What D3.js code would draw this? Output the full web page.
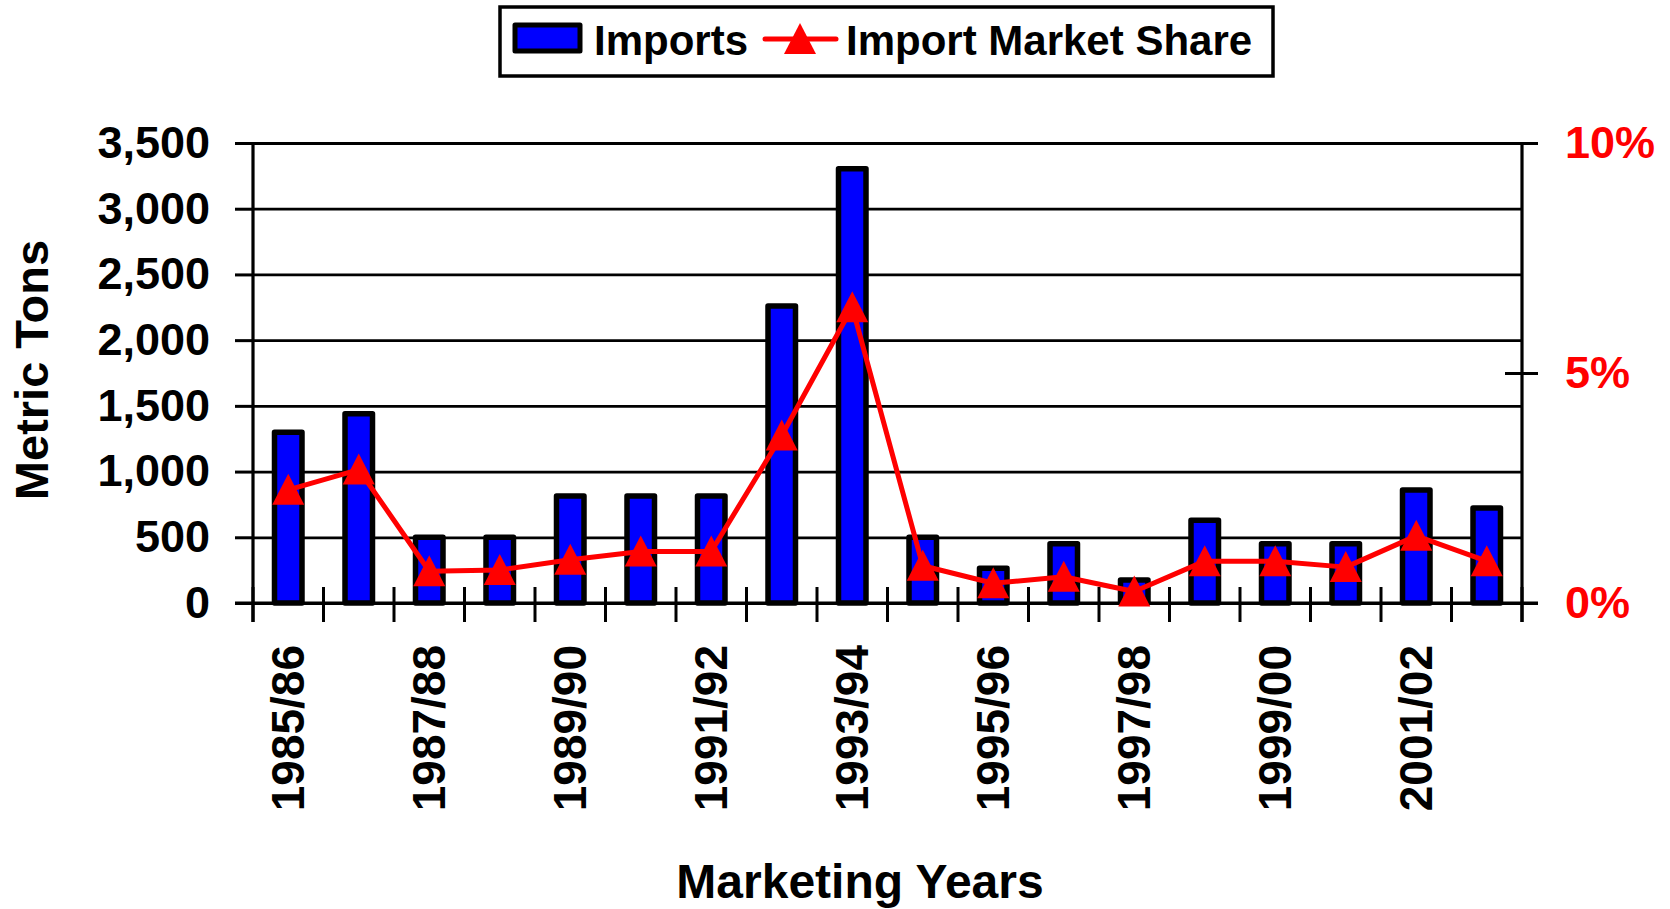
<!DOCTYPE html>
<html>
<head>
<meta charset="utf-8">
<script src="https://cdn.jsdelivr.net/npm/d3@7"></script>
<style>
  body { margin: 0; background: #fff; }
  text { font-family: "Liberation Sans", Arial, sans-serif; font-weight: bold; }
</style>
</head>
<body>
<div id="chart"></div>
<script>
// data
const years = ["1985/86", "1986/87", "1987/88", "1988/89", "1989/90", "1990/91",
  "1991/92", "1992/93", "1993/94", "1994/95", "1995/96", "1996/97", "1997/98",
  "1998/99", "1999/00", "2000/01", "2001/02", "2002/03"];
const imports = [1300, 1440, 500, 500, 815, 815, 815, 2260, 3305, 500, 265, 450,
  175, 630, 450, 450, 860, 722];
const marketShare = [0.0246, 0.029, 0.0069, 0.0072, 0.0094, 0.0112, 0.0112, 0.0364,
  0.0643, 0.0081, 0.0043, 0.0057, 0.0025, 0.0091, 0.0091, 0.0078, 0.0146, 0.0091];
const leftTicks = [0, 500, 1000, 1500, 2000, 2500, 3000, 3500];
const rightTicks = [0, 0.05, 0.10];

const fullWidth = 1670;
const fullHeight = 909;
const plotLeft = 253, plotRight = 1522, plotTop = 143, plotBottom = 603;

const svg = d3.select("#chart")
  .append("svg")
  .attr("width", fullWidth)
  .attr("height", fullHeight);

const x = d3.scaleBand().domain(years).range([plotLeft, plotRight]).padding(0);
const y = d3.scaleLinear().domain([0, 3500]).range([plotBottom, plotTop]);
const y2 = d3.scaleLinear().domain([0, 0.10]).range([plotBottom, plotTop]);

// === Gridlines ===
svg.append("g")
  .attr("transform", `translate(${plotLeft},0)`)
  .call(d3.axisLeft(y).tickValues(leftTicks).tickSize(-(plotRight - plotLeft)).tickFormat(""))
  .call(g => g.select(".domain").remove())
  .selectAll("line")
  .attr("stroke", "#000")
  .attr("stroke-width", 2.8);

// === Bars ===
const barW = x.bandwidth() * 0.39;
svg.append("g")
  .selectAll("rect")
  .data(years)
  .enter()
  .append("rect")
  .attr("x", (d) => x(d) + x.bandwidth() / 2 - barW / 2)
  .attr("y", (d, i) => y(imports[i]))
  .attr("width", barW)
  .attr("height", (d, i) => y(0) - y(imports[i]))
  .attr("fill", "#0000ff")
  .attr("stroke", "#000")
  .attr("stroke-width", 5.5)
  .attr("stroke-linejoin", "round");

// === Left axis ===
const yAxis = svg.append("g")
  .attr("transform", `translate(${plotLeft},0)`)
  .call(d3.axisLeft(y).tickValues(leftTicks).tickSize(18).tickPadding(25).tickFormat(d3.format(",")));
yAxis.select(".domain").remove();
yAxis.selectAll("line").attr("stroke", "#000").attr("stroke-width", 3);
yAxis.selectAll("text")
  .style("font-size", "45px")
  .style("fill", "#000");
svg.append("line")
  .attr("x1", plotLeft).attr("x2", plotLeft)
  .attr("y1", plotTop - 1).attr("y2", 622)
  .attr("stroke", "#000").attr("stroke-width", 3.2);

// === Right axis ===
const y2Axis = svg.append("g")
  .attr("transform", `translate(${plotRight},0)`)
  .call(d3.axisRight(y2).tickValues(rightTicks).tickSize(16).tickPadding(27).tickFormat(d3.format(".0%")));
y2Axis.select(".domain").remove();
y2Axis.selectAll("line").attr("stroke", "#000").attr("stroke-width", 3).attr("x1", -17);
y2Axis.selectAll("text")
  .style("font-size", "45px")
  .style("fill", "#ff0000");
svg.append("line")
  .attr("x1", plotRight).attr("x2", plotRight)
  .attr("y1", plotTop - 1).attr("y2", 622)
  .attr("stroke", "#000").attr("stroke-width", 3.2);

// === X axis ===
svg.append("line")
  .attr("x1", 235).attr("x2", 1538)
  .attr("y1", plotBottom).attr("y2", plotBottom)
  .attr("stroke", "#000").attr("stroke-width", 3.2);
const boundaries = years.map((d) => x(d)).concat([plotRight]);
svg.append("g")
  .selectAll("line")
  .data(boundaries)
  .enter()
  .append("line")
  .attr("x1", (d) => d).attr("x2", (d) => d)
  .attr("y1", 587).attr("y2", 622)
  .attr("stroke", "#000").attr("stroke-width", 3);

svg.append("g")
  .selectAll("text")
  .data(years.filter((d, i) => i % 2 === 0))
  .enter()
  .append("text")
  .attr("transform", (d) => `translate(${x(d) + x.bandwidth() / 2 - 1},645) rotate(-90)`)
  .attr("dy", "0.36em")
  .attr("text-anchor", "end")
  .style("font-size", "46px")
  .style("fill", "#000")
  .text((d) => d);

// === Market share line ===
const line = d3.line()
  .x((d, i) => x(years[i]) + x.bandwidth() / 2)
  .y((d) => y2(d));
svg.append("path")
  .datum(marketShare)
  .attr("d", line)
  .attr("fill", "none")
  .attr("stroke", "#ff0000")
  .attr("stroke-width", 5)
  .attr("stroke-linejoin", "round");

const tri = "M0,-16L16,15L-16,15Z";
svg.append("g")
  .selectAll("path")
  .data(marketShare)
  .enter()
  .append("path")
  .attr("transform", (d, i) => `translate(${x(years[i]) + x.bandwidth() / 2},${y2(d)})`)
  .attr("d", tri)
  .attr("fill", "#ff0000");

// === Axis titles ===
svg.append("text")
  .attr("transform", "translate(48,370) rotate(-90)")
  .attr("text-anchor", "middle")
  .style("font-size", "47px")
  .style("fill", "#000")
  .text("Metric Tons");

svg.append("text")
  .attr("x", 860)
  .attr("y", 898)
  .attr("text-anchor", "middle")
  .style("font-size", "48px")
  .style("fill", "#000")
  .text("Marketing Years");

// === Legend ===
const legend = svg.append("g");
legend.append("rect")
  .attr("x", 500).attr("y", 7)
  .attr("width", 773).attr("height", 69)
  .attr("fill", "#fff")
  .attr("stroke", "#000")
  .attr("stroke-width", 3.5);
legend.append("rect")
  .attr("x", 515).attr("y", 25)
  .attr("width", 65).attr("height", 26)
  .attr("fill", "#0000ff")
  .attr("stroke", "#000")
  .attr("stroke-width", 5)
  .attr("stroke-linejoin", "round");
legend.append("text")
  .attr("x", 594).attr("y", 40)
  .attr("dy", "0.36em")
  .style("font-size", "42px")
  .style("fill", "#000")
  .text("Imports");
legend.append("line")
  .attr("x1", 765).attr("x2", 836)
  .attr("y1", 39).attr("y2", 39)
  .attr("stroke", "#ff0000")
  .attr("stroke-width", 5)
  .attr("stroke-linecap", "round");
legend.append("path")
  .attr("transform", "translate(800,39)")
  .attr("d", tri)
  .attr("fill", "#ff0000");
legend.append("text")
  .attr("x", 846).attr("y", 40)
  .attr("dy", "0.36em")
  .style("font-size", "42px")
  .style("fill", "#000")
  .text("Import Market Share");
</script>
</body>
</html>
